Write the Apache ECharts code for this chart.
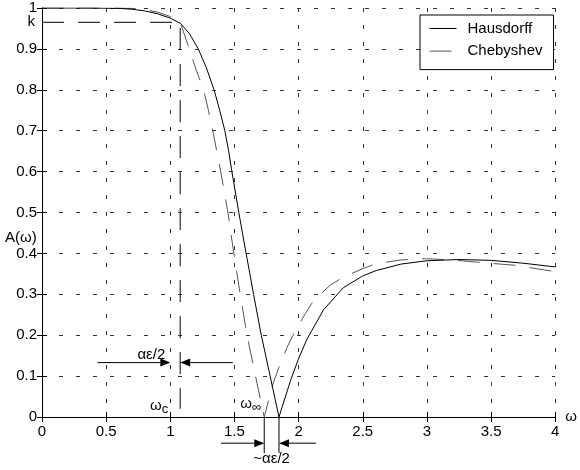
<!DOCTYPE html>
<html>
<head>
<meta charset="utf-8">
<title>Hausdorff vs Chebyshev</title>
<script src="https://cdn.jsdelivr.net/npm/echarts@6/dist/echarts.min.js"></script>
<style>
  html, body { margin: 0; padding: 0; background: #fff; }
  #chart { width: 580px; height: 470px; }
</style>
</head>
<body>
<div id="chart"></div>
<script>
// values
var hausX = [0, 0.4, 0.6, 0.7, 0.8, 0.9, 1.0, 1.077, 1.15, 1.218, 1.28, 1.341, 1.385, 1.425, 1.455, 1.48, 1.507, 1.534, 1.562, 1.591, 1.62, 1.649, 1.709, 1.778, 1.847,
  1.937, 2.0, 2.065, 2.194, 2.348, 2.5, 2.605, 2.8, 3.0, 3.25, 3.5, 3.75, 4.0];
var hausY = [1, 1, 0.999, 0.997, 0.993, 0.986, 0.975, 0.963, 0.937, 0.9, 0.855, 0.8, 0.75, 0.7, 0.65, 0.6, 0.55, 0.5, 0.45, 0.4, 0.35, 0.3, 0.2, 0.1, 0,
  0.089, 0.143, 0.19, 0.262, 0.316, 0.345, 0.358, 0.374, 0.382, 0.385, 0.383, 0.376, 0.367];

var chebX = [0, 0.6, 0.7, 0.8, 0.9, 1.0, 1.077, 1.148, 1.2, 1.26, 1.297, 1.331, 1.362, 1.393, 1.421, 1.449, 1.472, 1.495, 1.52, 1.545, 1.598, 1.664, 1.732,
  1.796, 1.847, 1.911, 1.963, 2.053, 2.117, 2.245, 2.348, 2.502, 2.605, 2.8, 2.99, 3.2, 3.376, 3.684, 3.967, 4.0];
var chebY = [1, 1, 0.999, 0.996, 0.99, 0.979, 0.965, 0.9, 0.85, 0.8, 0.75, 0.7, 0.65, 0.6, 0.55, 0.5, 0.45, 0.4, 0.35, 0.3, 0.2, 0.1, 0,
  0.077, 0.122, 0.171, 0.204, 0.253, 0.285, 0.322, 0.342, 0.363, 0.375, 0.384, 0.387, 0.384, 0.379, 0.371, 0.357, 0.355];

var seriesNames = ['Hausdorff', 'Chebyshev'];
var kLevel = 0.965;
var omegaC = 1.077;
var omegaInf = 1.732;
var omegaZero = 1.847;

function pairs(xs, ys) {
  return xs.map(function (x, i) { return [x, ys[i]]; });
}

var font = 'Liberation Sans, Arial, sans-serif';
var chart = echarts.init(document.getElementById('chart'));

var axisCommon = {
  type: 'value',
  axisLine: { lineStyle: { color: '#000', width: 1 } },
  axisTick: { inside: true, length: 5, lineStyle: { color: '#000' } },
  splitLine: { show: false }
};

chart.setOption({
  animation: false,
  grid: { left: 42, right: 18, top: 8, bottom: 53 },
  legend: {
    data: seriesNames,
    orient: 'vertical',
    left: 420,
    top: 15,
    padding: [6, 11, 11, 9],
    itemWidth: 27,
    itemHeight: 10,
    itemGap: 7.6,
    borderColor: '#000',
    borderWidth: 1,
    backgroundColor: '#fff',
    itemStyle: { opacity: 0 },
    lineStyle: { width: 1 },
    textStyle: { fontFamily: font, fontSize: 15, color: '#000', padding: [0, 0, 0, 6] }
  },
  xAxis: [
    Object.assign({}, axisCommon, {
      min: 0, max: 4, interval: 0.5,
      position: 'bottom',
      name: 'ω',
      nameGap: 4,
      nameTextStyle: { fontFamily: font, fontSize: 15, color: '#000', padding: [0, 0, 6, 0] },
      axisLabel: { fontFamily: font, fontSize: 15, color: '#000', margin: 7 },
      splitLine: { show: true, lineStyle: { color: '#333', type: [4, 13], width: 1 } }
    }),
    Object.assign({}, axisCommon, {
      min: 0, max: 4, interval: 0.5, position: 'top',
      axisLabel: { show: false }
    })
  ],
  yAxis: [
    Object.assign({}, axisCommon, {
      min: 0, max: 1, interval: 0.1,
      position: 'left',
      axisLabel: {
        fontFamily: font, fontSize: 15, color: '#000', margin: 5,
        formatter: function (v) { return v === 1 ? '1' : v === 0 ? '0' : v.toFixed(1); }
      },
      splitLine: { show: true, lineStyle: { color: '#333', type: [4, 13], width: 1 } }
    }),
    Object.assign({}, axisCommon, {
      min: 0, max: 1, interval: 0.1, position: 'right',
      axisLabel: { show: false }
    })
  ],
  series: [
    {
      name: 'guide',
      type: 'line',
      symbol: 'none',
      silent: true,
      data: [[0, kLevel], [omegaC, kLevel], [omegaC, 0.02]],
      lineStyle: { color: '#000', width: 1, type: [22, 14] },
      z: 1
    },
    {
      name: 'Hausdorff',
      type: 'line',
      symbol: 'none',
      data: pairs(hausX, hausY),
      itemStyle: { color: '#000' },
      lineStyle: { color: '#000', width: 1 },
      z: 3
    },
    {
      name: 'Chebyshev',
      type: 'line',
      symbol: 'none',
      data: pairs(chebX, chebY),
      itemStyle: { color: '#555' },
      lineStyle: { color: '#555', width: 1, type: [22, 14] },
      z: 2
    }
  ]
});

// annotations placed from data coordinates
function px(x, y) {
  return chart.convertToPixel({ xAxisIndex: 0, yAxisIndex: 0 }, [x, y]);
}

function arrow(x0, x1, y) {
  var a = px(x0, y), b = px(x1, y);
  var dir = b[0] > a[0] ? 1 : -1;
  var headLen = 10, headW = 4;
  return [
    { type: 'line', shape: { x1: a[0], y1: a[1], x2: b[0] - dir * headLen, y2: b[1] }, style: { stroke: '#000', lineWidth: 1 } },
    { type: 'polygon', shape: { points: [[b[0], b[1]], [b[0] - dir * headLen, b[1] - headW], [b[0] - dir * headLen, b[1] + headW]] }, style: { fill: '#000' } }
  ];
}

function label(x, y, text, align) {
  return {
    type: 'text', x: x, y: y,
    style: {
      text: text, fill: '#000', font: '15px ' + font,
      align: align || 'left', verticalAlign: 'middle',
      rich: {
        w: { fontFamily: font, fontSize: 15 },
        s: { fontFamily: font, fontSize: 13, padding: [6, 0, 0, 0] }
      }
    }
  };
}

var elems = [];
var axisY = px(0, 0)[1];
var yLeft = px(0, 0)[0];

// αε/2 arrows around ωc
elems = elems.concat(arrow(0.432, 1.0, 0.133));
elems = elems.concat(arrow(1.487, omegaC, 0.133));
elems.push(label(px(1.0, 0)[0] - 5, px(0, 0.152)[1], 'αε/2', 'right'));

// ~αε/2 arrows below axis
elems = elems.concat(arrow(1.395, omegaInf, -0.064));
elems = elems.concat(arrow(2.135, omegaZero, -0.064));
[omegaInf, omegaZero].forEach(function (w) {
  var p = px(w, 0);
  elems.push({ type: 'line', shape: { x1: p[0], y1: axisY, x2: p[0], y2: axisY + 36 }, style: { stroke: '#000', lineWidth: 1 } });
});
elems.push(label((px(omegaInf, 0)[0] + px(omegaZero, 0)[0]) / 2, axisY + 42, '~αε/2', 'center'));

// ωc, ω∞ and k labels
elems.push(label(px(omegaC, 0)[0] - 12, axisY - 11, '{w|ω}{s|c}', 'right'));
elems.push(label(px(omegaInf, 0)[0] - 24, axisY - 13, '{w|ω}{s|∞}', 'left'));
elems.push(label(yLeft - 7, px(0, kLevel)[1], 'k', 'right'));
elems.push(label(5, 238, 'A(ω)', 'left'));

chart.setOption({ graphic: { elements: elems } });
</script>
</body>
</html>
